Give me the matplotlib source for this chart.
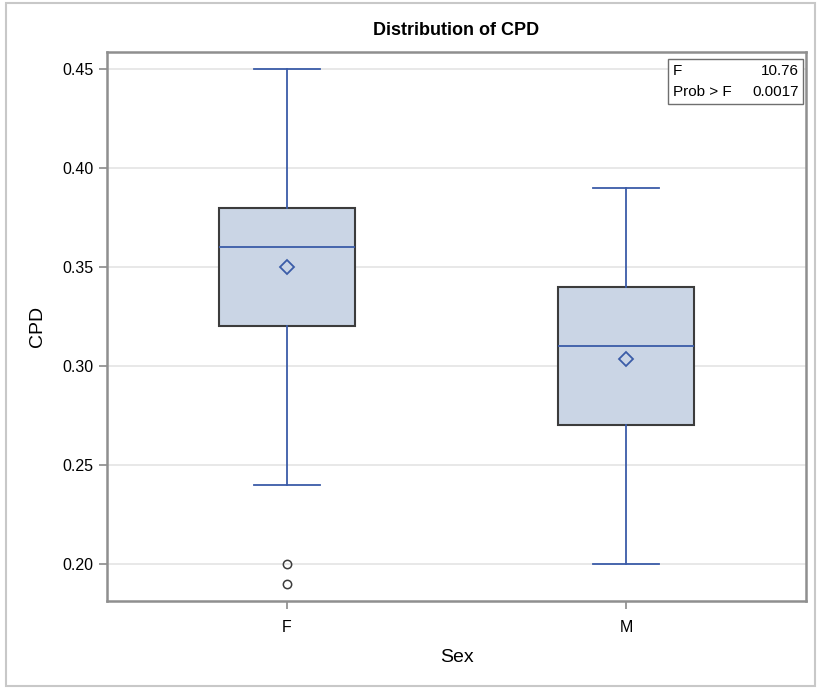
import matplotlib
matplotlib.use("Agg")
import matplotlib.pyplot as plt
from matplotlib.patches import Rectangle

plt.rcParams['font.family'] = ['Liberation Sans', 'DejaVu Sans']

groups = ["F", "M"]
whisker_low = [0.24, 0.20]
q1 = [0.32, 0.27]
medians = [0.36, 0.31]
q3 = [0.38, 0.34]
whisker_high = [0.45, 0.39]
means = [0.350, 0.3035]
outliers = [[0.20, 0.19], []]
y_ticks = [0.20, 0.25, 0.30, 0.35, 0.40, 0.45]
stat_labels = ["F", "Prob > F"]
stat_values = ["10.76", "0.0017"]

blue = "#3b5ca8"
fill = "#cad5e5"
edge = "#3c3c3c"

fig = plt.figure(figsize=(8.17, 6.89), dpi=100)
ax = fig.add_axes([107/817, 1 - 601/689, 699/817, 549/689])

stats = []
for i, g in enumerate(groups):
    stats.append(dict(label=g, whislo=whisker_low[i], q1=q1[i], med=medians[i],
                      q3=q3[i], whishi=whisker_high[i], mean=means[i], fliers=outliers[i]))

ax.bxp(stats, positions=range(len(groups)), widths=0.40, patch_artist=True,
       showmeans=True, showfliers=True,
       boxprops=dict(facecolor=fill, edgecolor=edge, linewidth=1.5),
       whiskerprops=dict(color=blue, linewidth=1.3),
       capprops=dict(color=blue, linewidth=1.3),
       medianprops=dict(color=blue, linewidth=1.3),
       meanprops=dict(marker="D", markerfacecolor="none", markeredgecolor=blue,
                      markersize=7, markeredgewidth=1.3),
       flierprops=dict(marker="o", markerfacecolor="none", markeredgecolor=edge,
                       markersize=6, markeredgewidth=1.1),
       capwidths=0.195, zorder=3)

ax.set_xlim(-0.53, 1.53)
ax.set_ylim(0.1813, 0.4586)
ax.set_yticks(y_ticks)
ax.set_yticklabels([f"{v:.2f}" for v in y_ticks])
ax.yaxis.grid(True, color="#e4e4e4", linewidth=1.2, zorder=0)
ax.set_axisbelow(True)
ax.tick_params(axis="both", labelsize=11.5, color="#8a8a8a", length=6, width=1.2)
ax.tick_params(axis="x", pad=8)
for s in ax.spines.values():
    s.set_color("#8f8f8f")
    s.set_linewidth(1.8)

ax.set_xlabel("Sex", fontsize=14, labelpad=10)
ax.set_ylabel("CPD", fontsize=14, labelpad=12)
ax.set_title("Distribution of CPD", fontsize=13, fontweight="bold", pad=12)

# F statistic inset: label column left, value column right
ax.add_patch(Rectangle((0.8026, 0.905), 0.1931, 0.082, transform=ax.transAxes,
                       facecolor="white", edgecolor="#6f6f6f", linewidth=1, zorder=5))
for k, (lab, val) in enumerate(zip(stat_labels, stat_values)):
    yy = 0.966 - k * 0.039
    ax.text(0.810, yy, lab, transform=ax.transAxes, ha="left", va="center",
            fontsize=11, zorder=6)
    ax.text(0.990, yy, val, transform=ax.transAxes, ha="right", va="center",
            fontsize=11, zorder=6)

fig.patches.append(Rectangle((6/817, 3/689), 809/817, 683/689, transform=fig.transFigure,
                             fill=False, edgecolor="#c8c8c8", linewidth=1.5))

fig.savefig("out.png", dpi=100)
